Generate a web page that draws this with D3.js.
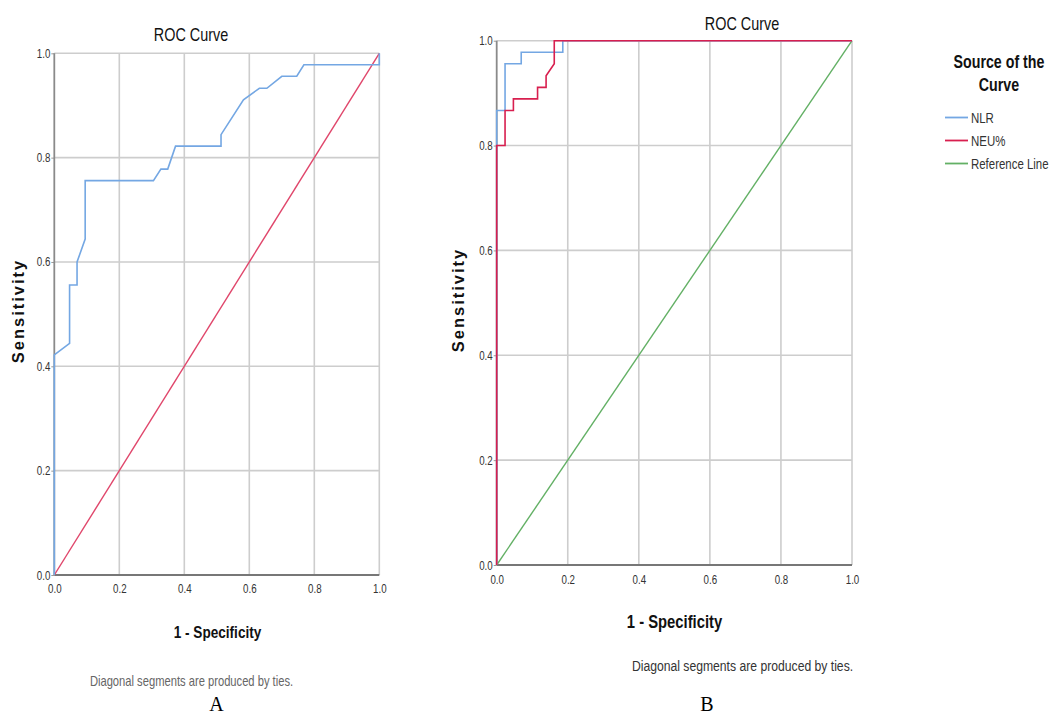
<!DOCTYPE html>
<html>
<head>
<meta charset="utf-8">
<script src="https://cdn.jsdelivr.net/npm/d3@7"></script>
<style>
  html, body { margin: 0; padding: 0; background: #fff; }
  svg { display: block; }
  .narrow { font-family: "Liberation Sans", Arial, sans-serif; }
  .wide { font-family: "Liberation Sans", Arial, sans-serif; }
  .serif { font-family: "Liberation Serif", "Times New Roman", serif; }
</style>
</head>
<body>
<svg id="chart" width="1054" height="715"></svg>
<script>
// ---------- data ----------
const tickValues = [0, 0.2, 0.4, 0.6, 0.8, 1.0];
const tickLabels = ["0.0", "0.2", "0.4", "0.6", "0.8", "1.0"];

// Panel A: NLR ROC curve (1 - specificity, sensitivity)
const rocA_fpr = [0, 0, 0.047, 0.047, 0.070, 0.070, 0.095, 0.095, 0.305, 0.328, 0.349, 0.373, 0.513, 0.513, 0.582, 0.631, 0.654, 0.700, 0.746, 0.768, 1.0, 1.0];
const rocA_tpr = [0, 0.422, 0.444, 0.556, 0.556, 0.600, 0.644, 0.756, 0.756, 0.778, 0.778, 0.822, 0.822, 0.844, 0.911, 0.933, 0.933, 0.956, 0.956, 0.978, 0.978, 1.0];

// Panel B: NLR and NEU% ROC curves
const rocB_nlr_fpr = [0, 0, 0.0235, 0.0235, 0.069, 0.069, 0.186, 0.186, 1.0];
const rocB_nlr_tpr = [0, 0.867, 0.867, 0.956, 0.956, 0.978, 0.978, 1.0, 1.0];
const rocB_neu_fpr = [0, 0, 0.0235, 0.0235, 0.047, 0.047, 0.115, 0.115, 0.139, 0.139, 0.162, 0.162, 1.0];
const rocB_neu_tpr = [0, 0.800, 0.800, 0.867, 0.867, 0.889, 0.889, 0.911, 0.911, 0.933, 0.956, 1.0, 1.0];

const refLine_x = [0, 1];
const refLine_y = [0, 1];

const legendNames = ["NLR", "NEU%", "Reference Line"];
const legendColors = ["#74a7e3", "#d81f4f", "#63b065"];

// ---------- drawing ----------
const svg = d3.select("#chart");

// condense a text horizontally (emulates a narrow font) with a transform
function condense(sel, factor) {
  sel.each(function () {
    const t = d3.select(this);
    const x = +t.attr("x") || 0, y = +t.attr("y") || 0;
    t.attr("x", null).attr("y", null)
      .attr("transform", `translate(${x},${y}) scale(${factor},1)`);
  });
}

function zip(xs, ys) { return xs.map((x, i) => [x, ys[i]]); }

function drawPanel(opt) {
  const x = d3.scaleLinear().domain([0, 1]).range([opt.x0, opt.x1]);
  const y = d3.scaleLinear().domain([0, 1]).range([opt.y0, opt.y1]);
  const g = svg.append("g");

  // grid
  g.selectAll(".vg").data(tickValues.slice(1)).join("line")
    .attr("x1", d => x(d)).attr("x2", d => x(d))
    .attr("y1", y(0)).attr("y2", y(1))
    .attr("stroke", "#cdcdcd").attr("stroke-width", 1.6);
  g.selectAll(".hg").data(tickValues.slice(1)).join("line")
    .attr("x1", x(0)).attr("x2", x(1))
    .attr("y1", d => y(d)).attr("y2", d => y(d))
    .attr("stroke", "#cdcdcd").attr("stroke-width", 1.6);

  // axes
  const xAxis = d3.axisBottom(x).tickValues(tickValues).tickFormat((d, i) => tickLabels[i]).tickSize(0).tickPadding(opt.xPad);
  const yAxis = d3.axisLeft(y).tickValues(tickValues).tickFormat((d, i) => tickLabels[i]).tickSize(3).tickPadding(1);
  const ga = g.append("g").attr("transform", `translate(0,${y(0)})`).call(xAxis);
  const gy = g.append("g").attr("transform", `translate(${x(0)},0)`).call(yAxis);
  [ga, gy].forEach(a => {
    a.select(".domain").remove();
    a.attr("font-family", null).attr("font-size", null);
    a.selectAll("text").attr("class", "narrow")
      .style("font-size", "12.5px").attr("fill", "#333").call(condense, 0.78);
    a.selectAll("line").attr("stroke", "#999");
  });
  g.append("line").attr("x1", x(0)).attr("x2", x(0)).attr("y1", y(0)).attr("y2", y(1))
    .attr("stroke", "#8a8a8a").attr("stroke-width", 1.8);
  g.append("line").attr("x1", x(0)).attr("x2", x(1)).attr("y1", y(0)).attr("y2", y(0))
    .attr("stroke", "#777").attr("stroke-width", 2);

  const line = d3.line().x(d => x(d[0])).y(d => y(d[1]));
  opt.series.forEach(s => {
    g.append("path").datum(zip(s.xs, s.ys)).attr("d", line)
      .attr("fill", "none").attr("stroke", s.color).attr("stroke-width", s.width || 1.5)
      .attr("stroke-linejoin", "miter");
  });

  // texts
  g.append("text").attr("class", "narrow").attr("x", opt.titleX).attr("y", opt.titleY)
    .attr("text-anchor", "middle").style("font-size", "18px").attr("fill", "#111")
    .text("ROC Curve").call(condense, 0.8);
  g.append("text").attr("class", "wide")
    .attr("transform", `translate(${opt.yLabX},${opt.yLabY}) rotate(-90)`)
    .attr("text-anchor", "middle").style("font-size", "16.5px").style("font-weight", "bold")
    .style("letter-spacing", "2px").attr("fill", "#111").text("Sensitivity");
  g.append("text").attr("class", "narrow").attr("x", opt.xLabX).attr("y", opt.xLabY)
    .attr("text-anchor", "middle").style("font-size", opt.xLabSize).style("font-weight", "bold")
    .attr("fill", "#111").text("1 - Specificity").call(condense, 0.8);
  g.append("text").attr("class", "narrow").attr("x", opt.noteX).attr("y", opt.noteY)
    .attr("text-anchor", "middle").style("font-size", "14px").attr("fill", opt.noteColor)
    .text("Diagonal segments are produced by ties.").call(condense, opt.noteScale);
  g.append("text").attr("class", "serif").attr("x", opt.letterX).attr("y", 711)
    .attr("text-anchor", "middle").style("font-size", "20px").attr("fill", "#000").text(opt.letter);
}

drawPanel({
  x0: 54.3, x1: 379.3, y0: 575, y1: 53.3, xPad: 9,
  titleX: 191, titleY: 41,
  yLabX: 24, yLabY: 311,
  xLabX: 217.5, xLabY: 638, xLabSize: "17px",
  noteX: 191.5, noteY: 686, noteScale: 0.8, noteColor: "#666",
  letter: "A", letterX: 216.5,
  series: [
    { xs: refLine_x, ys: refLine_y, color: "#e0466b", width: 1.4 },
    { xs: rocA_fpr, ys: rocA_tpr, color: legendColors[0], width: 1.6 }
  ]
});

drawPanel({
  x0: 496.7, x1: 852, y0: 565, y1: 40.7, xPad: 10,
  titleX: 742, titleY: 30,
  yLabX: 464, yLabY: 300,
  xLabX: 674.5, xLabY: 628, xLabSize: "18.5px",
  noteX: 742.5, noteY: 671, noteScale: 0.87, noteColor: "#333",
  letter: "B", letterX: 707,
  series: [
    { xs: refLine_x, ys: refLine_y, color: legendColors[2], width: 1.4 },
    { xs: rocB_nlr_fpr, ys: rocB_nlr_tpr, color: legendColors[0], width: 1.6 },
    { xs: rocB_neu_fpr, ys: rocB_neu_tpr, color: legendColors[1], width: 1.6 }
  ]
});

// legend
const lg = svg.append("g");
lg.append("text").attr("class", "narrow").attr("x", 999).attr("y", 68)
  .attr("text-anchor", "middle").style("font-size", "18px").style("font-weight", "bold")
  .attr("fill", "#111").text("Source of the").call(condense, 0.79);
lg.append("text").attr("class", "narrow").attr("x", 999).attr("y", 91)
  .attr("text-anchor", "middle").style("font-size", "18px").style("font-weight", "bold")
  .attr("fill", "#111").text("Curve").call(condense, 0.79);
const legendY = d3.scalePoint().domain(legendNames).range([117.5, 163.5]);
const items = lg.selectAll(".item").data(legendNames).join("g")
  .attr("transform", d => `translate(0,${legendY(d)})`);
items.append("line").attr("x1", 945).attr("x2", 968).attr("y1", 0).attr("y2", 0)
  .attr("stroke", (d, i) => legendColors[i]).attr("stroke-width", 1.8);
items.append("text").attr("class", "narrow").attr("x", 971).attr("y", 5)
  .style("font-size", "14.5px").attr("fill", "#333").text(d => d).call(condense, 0.79);
</script>
</body>
</html>
